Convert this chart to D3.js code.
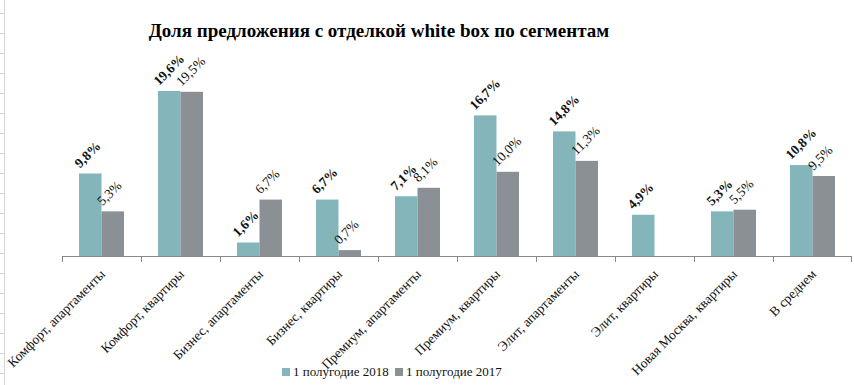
<!DOCTYPE html>
<html>
<head>
<meta charset="utf-8">
<script src="https://cdn.jsdelivr.net/npm/d3@7"></script>
<style>
  body { margin: 0; background: #fff; }
  svg { display: block; font-family: "Liberation Serif", "Times New Roman", serif; }
</style>
</head>
<body>
<div id="chart"></div>
<script>
var svgWidth = 854;
var svgHeight = 385;

var categories = [
  "Комфорт, апартаменты",
  "Комфорт, квартиры",
  "Бизнес, апартаменты",
  "Бизнес, квартиры",
  "Премиум, апартаменты",
  "Премиум, квартиры",
  "Элит, апартаменты",
  "Элит, квартиры",
  "Новая Москва, квартиры",
  "В среднем"
];
var seriesNames = ["1 полугодие 2018", "1 полугодие 2017"];
var values2018 = [9.8, 19.6, 1.6, 6.7, 7.1, 16.7, 14.8, 4.9, 5.3, 10.8];
var values2017 = [5.3, 19.5, 6.7, 0.7, 8.1, 10.0, 11.3, null, 5.5, 9.5];
var colors = ["#84b5ba", "#8b9095"];

var margin = { top: 70, left: 62, right: 2, bottom: 129 };
var baseY = svgHeight - margin.bottom;

var svg = d3.select("#chart")
  .append("svg")
  .attr("width", svgWidth)
  .attr("height", svgHeight);

// spreadsheet remnant on the left edge
var gridRows = d3.range(13, svgHeight, 20);
svg.append("line")
  .attr("x1", 4.5).attr("x2", 4.5)
  .attr("y1", 0).attr("y2", svgHeight)
  .attr("stroke", "#d4d4d4");
svg.selectAll(".row")
  .data(gridRows)
  .enter()
  .append("line")
  .attr("x1", 0).attr("x2", 5)
  .attr("y1", d => d + 0.5).attr("y2", d => d + 0.5)
  .attr("stroke", "#d4d4d4");

var x = d3.scaleBand()
  .domain(categories)
  .range([margin.left, svgWidth - margin.right]);

var groupWidth = 45;
var xInner = d3.scaleBand()
  .domain([0, 1])
  .range([0, groupWidth]);

var y = d3.scaleLinear()
  .domain([0, 22])
  .range([baseY, baseY - 8.42 * 22]);

var fmt = v => d3.format(".1f")(v).replace(".", ",") + "%";

// title
svg.append("text")
  .attr("x", 379)
  .attr("y", 37)
  .attr("text-anchor", "middle")
  .attr("font-size", "19px")
  .attr("font-weight", "bold")
  .text("Доля предложения с отделкой white box по сегментам");

var series = [values2018, values2017];

series.forEach(function(vals, si) {
  var data = categories.map((c, i) => ({ cat: c, v: vals[i] })).filter(d => d.v != null);
  var gx = d => x(d.cat) + (x.bandwidth() - groupWidth) / 2 + xInner(si);

  svg.selectAll(".bar" + si)
    .data(data)
    .enter()
    .append("rect")
    .attr("x", gx)
    .attr("y", d => y(d.v))
    .attr("width", xInner.bandwidth())
    .attr("height", d => baseY - y(d.v))
    .attr("fill", colors[si]);

  svg.selectAll(".lbl" + si)
    .data(data)
    .enter()
    .append("text")
    .attr("transform", d => `translate(${gx(d) + 1}, ${y(d.v) - 5}) rotate(-45)`)
    .attr("font-size", "13.5px")
    .attr("font-weight", si === 0 ? "bold" : "normal")
    .attr("fill", "#111")
    .text(d => fmt(d.v));
});

// axis line and ticks at category borders
svg.append("line")
  .attr("x1", x.range()[0]).attr("x2", x.range()[1])
  .attr("y1", baseY + 0.5).attr("y2", baseY + 0.5)
  .attr("stroke", "#898989");

var borders = categories.map(c => x(c)).concat([x.range()[1] - 1]);
svg.selectAll(".tick")
  .data(borders)
  .enter()
  .append("line")
  .attr("x1", d => Math.round(d) + 0.5).attr("x2", d => Math.round(d) + 0.5)
  .attr("y1", baseY).attr("y2", baseY + 6)
  .attr("stroke", "#898989");

svg.selectAll(".cat")
  .data(categories)
  .enter()
  .append("text")
  .attr("transform", d => `translate(${x(d) + x.bandwidth() / 2 + 4.5}, ${baseY + 19}) rotate(-45)`)
  .attr("text-anchor", "end")
  .attr("font-size", "13.5px")
  .attr("fill", "#111")
  .text(d => d);

// legend
var legend = svg.append("g").attr("transform", "translate(282, 376)");
var legX = [0, 113];
seriesNames.forEach(function(name, i) {
  legend.append("rect")
    .attr("x", legX[i]).attr("y", -8)
    .attr("width", 8).attr("height", 8)
    .attr("fill", colors[i]);
  legend.append("text")
    .attr("x", legX[i] + 11).attr("y", 0)
    .attr("font-size", "13px")
    .attr("fill", "#111")
    .text(name);
});
</script>
</body>
</html>
